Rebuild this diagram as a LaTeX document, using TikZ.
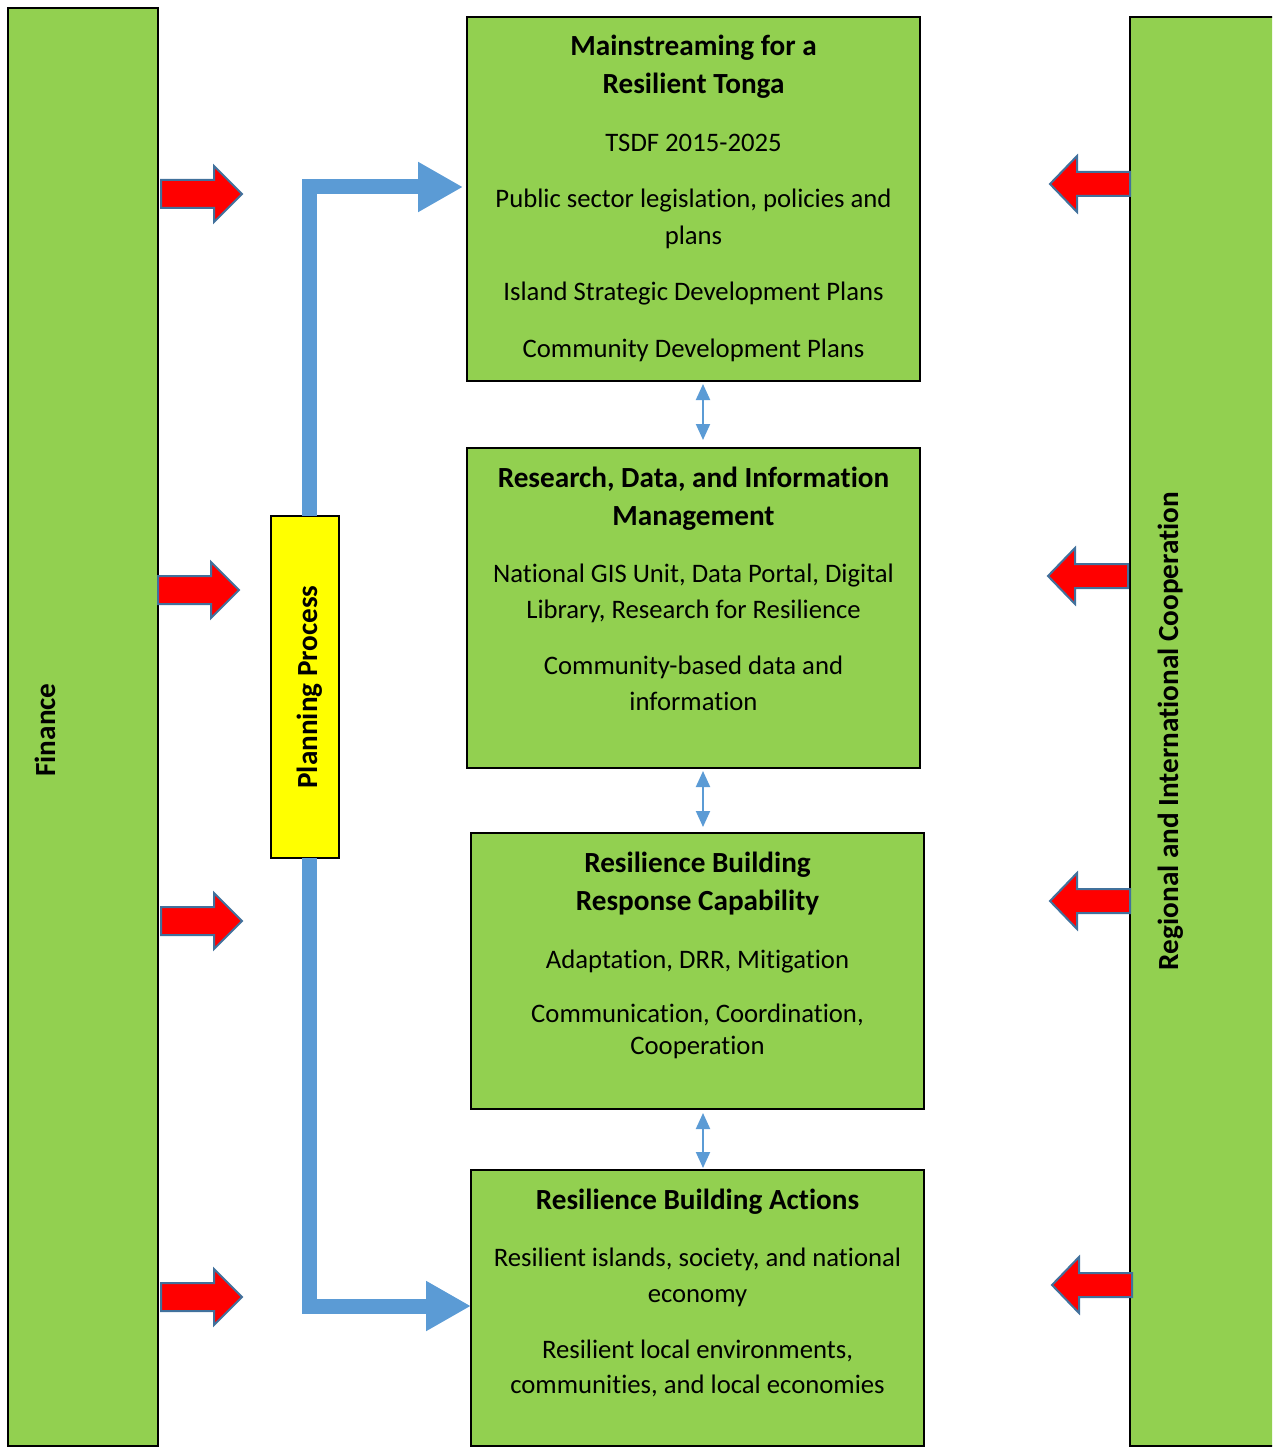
\documentclass[tikz,border=0pt]{standalone}
\usepackage{fontspec}
\setmainfont[Ligatures={NoCommon,NoRequired,NoContextual},Contextuals=NoAlternate]{Carlito}
\usetikzlibrary{arrows.meta}
\definecolor{grn}{HTML}{92D050}
\definecolor{blu}{HTML}{5B9BD5}
\definecolor{outl}{HTML}{41719C}
\definecolor{yel}{RGB}{255,255,0}
\definecolor{rd}{RGB}{255,0,0}
\begin{document}
\begin{tikzpicture}[x=1pt,y=1pt,
  gbox/.style={draw=black,line width=1.2pt,fill=grn,inner sep=0pt,outer sep=0pt},
  ybox/.style={draw=black,line width=1.2pt,fill=yel,inner sep=0pt,outer sep=0pt},
  ttl/.style={anchor=base,inner sep=0pt,font=\bfseries\fontsize{29.2pt}{38pt}\selectfont},
  txt/.style={anchor=base,inner sep=0pt,font=\fontsize{26.7pt}{36pt}\selectfont},
  vlbl/.style={anchor=base,rotate=90,inner sep=0pt,font=\bfseries\fontsize{29.2pt}{38pt}\selectfont},
  redarrow/.style={fill=rd,draw=outl,line width=2pt,line join=miter},
  planarrow/.style={draw=blu,line width=15pt,line join=miter,-{Triangle[length=45pt,width=47pt]}},
  dblarrow/.style={draw=blu,line width=2pt,{Triangle[length=16pt,width=14pt]}-{Triangle[length=16pt,width=14pt]}}
]
\useasboundingbox (0,0) rectangle (1272,-1447);
\clip (0,0) rectangle (1272,-1447);

% side bars
\node[gbox,minimum width=150pt,minimum height=1438pt] (fin) at (83,-727) {};
\node[gbox,minimum width=150pt,minimum height=1429pt] (reg) at (1205,-731.5) {};
\node[vlbl] (finlbl) at (55,-730) {Finance};
\node[vlbl] (reglbl) at (1178,-731) {Regional and International Cooperation};

% main boxes
\node[gbox,minimum width=453pt,minimum height=364pt] (box1) at (693.5,-199) {};
\node[gbox,minimum width=453pt,minimum height=320pt] (box2) at (693.5,-608) {};
\node[gbox,minimum width=453pt,minimum height=276pt] (box3) at (697.5,-971) {};
\node[gbox,minimum width=453pt,minimum height=276pt] (box4) at (697.5,-1308) {};

% planning process
\node[ybox,minimum width=68pt,minimum height=342pt] (plan) at (305,-687) {};
\node[vlbl] (planlbl) at (317,-687) {Planning Process};

% box 1 text
\node[ttl] (t1a) at (693.5,-56) {Mainstreaming for a};
\node[ttl] (t1b) at (693.5,-94) {Resilient Tonga};
\node[txt] (t1c) at (693.5,-152) {TSDF 2015-2025};
\node[txt] (t1d) at (693.5,-208) {Public sector legislation, policies and};
\node[txt] (t1e) at (693.5,-244) {plans};
\node[txt] (t1f) at (693.5,-300) {Island Strategic Development Plans};
\node[txt] (t1g) at (693.5,-357) {Community Development Plans};

% box 2 text
\node[ttl] (t2a) at (693.5,-487) {Research, Data, and Information};
\node[ttl] (t2b) at (693.5,-525) {Management};
\node[txt] (t2c) at (693.5,-582) {National GIS Unit, Data Portal, Digital};
\node[txt] (t2d) at (693.5,-618) {Library, Research for Resilience};
\node[txt] (t2e) at (693.5,-674) {Community-based data and};
\node[txt] (t2f) at (693.5,-710) {information};

% box 3 text
\node[ttl] (t3a) at (697.5,-872) {Resilience Building};
\node[ttl] (t3b) at (697.5,-910) {Response Capability};
\node[txt] (t3c) at (697.5,-968) {Adaptation, DRR, Mitigation};
\node[txt] (t3d) at (697.5,-1022) {Communication, Coordination,};
\node[txt] (t3e) at (697.5,-1054) {Cooperation};

% box 4 text
\node[ttl] (t4a) at (697.5,-1209) {Resilience Building Actions};
\node[txt] (t4b) at (697.5,-1266) {Resilient islands, society, and national};
\node[txt] (t4c) at (697.5,-1302) {economy};
\node[txt] (t4d) at (697.5,-1358) {Resilient local environments,};
\node[txt] (t4e) at (697.5,-1393) {communities, and local economies};

% planning arrows
\coordinate (a1) at (463,-187);
\coordinate (a4) at (471,-1306);
\draw[planarrow] ([xshift=4.5pt]plan.north) |- (a1);
\draw[planarrow] ([xshift=4.5pt]plan.south) |- (a4);

% double arrows
\draw[dblarrow] ([xshift=9.5pt,yshift=-3pt]box1.south) -- ([xshift=9.5pt,yshift=8pt]box2.north);
\draw[dblarrow] ([xshift=9.5pt,yshift=-3pt]box2.south) -- ([xshift=5.5pt,yshift=6pt]box3.north);
\draw[dblarrow] ([xshift=5.5pt,yshift=-4pt]box3.south) -- ([xshift=5.5pt,yshift=2pt]box4.north);

% red arrows, left (pointing right)
\foreach \cy/\dx in {194/0,590/-3,921/0,1297/0}{
  \draw[redarrow] (161+\dx,-\cy+14) -- (214+\dx,-\cy+14) -- (214+\dx,-\cy+28) -- (242+\dx,-\cy)
    -- (214+\dx,-\cy-28) -- (214+\dx,-\cy-14) -- (161+\dx,-\cy-14) -- cycle;
}
% red arrows, right (pointing left)
\foreach \cy/\dx in {184/0,576/-2,901/0,1285/2}{
  \draw[redarrow] (1130+\dx,-\cy+12) -- (1077+\dx,-\cy+12) -- (1077+\dx,-\cy+28) -- (1050+\dx,-\cy)
    -- (1077+\dx,-\cy-28) -- (1077+\dx,-\cy-12) -- (1130+\dx,-\cy-12) -- cycle;
}
\end{tikzpicture}
\end{document}
